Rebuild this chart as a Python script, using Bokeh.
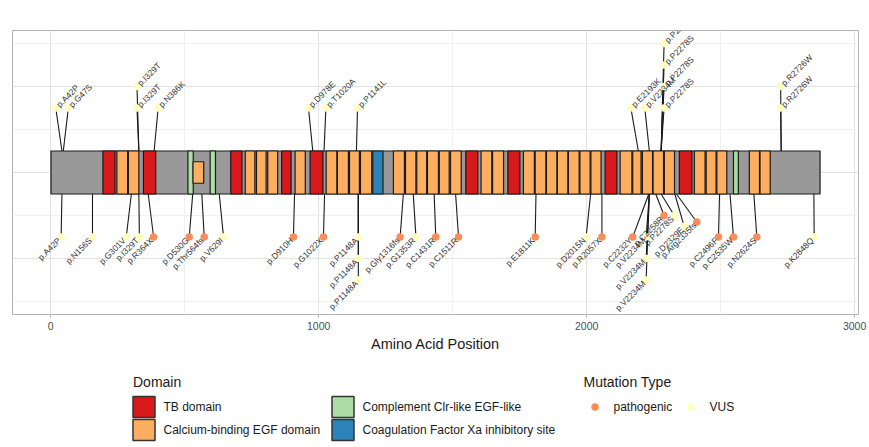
import math
from bokeh.plotting import figure
from bokeh.models import Range1d, FixedTicker, ColumnDataSource
from bokeh.layouts import column
from bokeh.embed import file_html
from bokeh.resources import INLINE
from bokeh.core.properties import value

# ---------------- data ----------------
protein_start = 1
protein_end = 2871

domain_names = ["TB domain", "Calcium-binding EGF domain",
                "Complement Clr-like EGF-like", "Coagulation Factor Xa inhibitory site"]
domain_colors = ["#D7191C", "#FDAE61", "#ABDDA4", "#2B83BA"]

tb_start = [195, 346, 672, 862, 968, 1549, 1706, 2069, 2346]
tb_end = [240, 392, 714, 897, 1016, 1594, 1751, 2113, 2393]
cb_start = [247, 290, 726, 768, 810, 912, 1028, 1070, 1115, 1156, 1279, 1324, 1366,
            1406, 1450, 1492, 1606, 1649, 1764, 1808, 1850, 1891, 1932, 1975, 2016,
            2125, 2172, 2208, 2248, 2290, 2402, 2446, 2486, 2607, 2647]
cb_end = [287, 329, 762, 804, 847, 950, 1068, 1111, 1152, 1198, 1320, 1363, 1403,
          1447, 1487, 1532, 1646, 1690, 1805, 1848, 1889, 1930, 1972, 2013, 2054,
          2169, 2203, 2246, 2287, 2328, 2442, 2483, 2523, 2645, 2685]
cc_start = [512, 595, 2548]
cc_end = [532, 615, 2566]
fx_start = [1202]
fx_end = [1240]
# inner (overlapping) calcium-binding EGF region
inner_start = [531]
inner_end = [571]

mut_types = ["pathogenic", "VUS"]
mut_colors = ["#FC8D59", "#FFFFBF"]

# mutations shown above the protein
up_label = ["p.A42P", "p.G47S", "p.I329T", "p.I329T", "p.N386K", "p.D978E", "p.T1020A",
            "p.P1141L", "p.E2193K", "p.V2234M", "p.P2278S", "p.P2278S", "p.P2278S",
            "p.P2278S", "p.R2726W", "p.R2726W"]
up_pos = [42, 47, 329, 329, 386, 978, 1020, 1141, 2193, 2234, 2278, 2278, 2278, 2278, 2726, 2726]
up_type = ["VUS"] * 16
up_lab_x = [19, 66, 322, 322, 401, 962, 1027, 1145, 2165, 2217, 2289, 2289, 2289, 2289, 2724, 2724]
up_lab_y = [0.75, 0.75, 0.75, 1.0, 0.75, 0.75, 0.75, 0.75, 0.75, 0.75, 0.75, 1.0, 1.25, 1.5, 0.75, 1.0]

# mutations shown below the protein
dn_label = ["p.A42P", "p.N156S", "p.G301V", "p.I329T", "p.R364X", "p.D530G", "p.Thr564fs",
            "p.V629I", "p.D910H", "p.G1022X", "p.P1148A", "p.P1148A", "p.P1148A",
            "p.Gly1316fs", "p.G1353R", "p.C1431R", "p.C1511R", "p.E1811K", "p.D2015N",
            "p.R2057X", "p.C2232Y", "p.V2234M", "p.V2234M", "p.V2234M", "p.C2258R",
            "p.P2278S", "p.D2329E", "p.Arg2335fs", "p.C2496F", "p.C2535W", "p.N2624S",
            "p.K2848Q"]
dn_pos = [42, 156, 301, 329, 364, 530, 564, 629, 910, 1022, 1148, 1148, 1148, 1316, 1353,
          1431, 1511, 1811, 2015, 2057, 2232, 2234, 2234, 2234, 2258, 2278, 2329, 2335,
          2496, 2535, 2624, 2848]
dn_type = ["VUS", "VUS", "VUS", "VUS", "pathogenic", "pathogenic", "pathogenic", "VUS",
           "pathogenic", "pathogenic", "VUS", "VUS", "VUS", "pathogenic", "VUS",
           "pathogenic", "pathogenic", "pathogenic", "VUS", "pathogenic", "pathogenic",
           "VUS", "VUS", "VUS", "pathogenic", "VUS", "VUS", "pathogenic", "pathogenic",
           "pathogenic", "pathogenic", "VUS"]
dn_lab_x = [39, 156, 282, 331, 384, 517, 573, 645, 906, 1018, 1148, 1148, 1148, 1304, 1363,
            1437, 1522, 1808, 1998, 2057, 2172, 2222, 2222, 2222, 2289, 2327, 2364, 2411,
            2492, 2548, 2635, 2849]
dn_lab_y = [-0.75, -0.75, -0.75, -0.75, -0.75, -0.75, -0.75, -0.75, -0.75, -0.75, -0.75,
            -1.0, -1.25, -0.75, -0.75, -0.75, -0.75, -0.75, -0.75, -0.75, -0.75, -0.75,
            -1.0, -1.25, -0.5, -0.5, -0.625, -0.575, -0.75, -0.75, -0.75, -0.75]

# ---------------- style ----------------
FONT = "Liberation Sans"
BAR_H = 0.25
INNER_H = 0.125
color_of_type = dict(zip(mut_types, mut_colors))
color_of_dom = dict(zip(domain_names, domain_colors))

W = 869
H_MAIN = 358
H_LEG = 89
FRAME_L, FRAME_R = 12, 858

p = figure(width=W, height=H_MAIN, x_range=Range1d(-142.5, 3014.5),
           y_range=Range1d(-1.65, 1.65), output_backend="svg", toolbar_location=None,
           y_axis_location=None, min_border_left=FRAME_L, min_border_right=W - FRAME_R,
           min_border_top=30, min_border_bottom=44)
p.background_fill_color = "white"
p.border_fill_color = "white"
p.outline_line_color = "#b3b3b3"
p.outline_line_width = 1

xt = FixedTicker(ticks=[0, 1000, 2000, 3000], minor_ticks=[500, 1500, 2500])
p.xaxis.ticker = xt
p.xgrid.ticker = xt
p.xgrid.grid_line_color = "#e3e3e3"
p.xgrid.minor_grid_line_color = "#f0f0f0"
p.ygrid.ticker = FixedTicker(ticks=[-1, 0, 1], minor_ticks=[-1.5, -0.5, 0.5, 1.5])
p.ygrid.grid_line_color = "#e3e3e3"
p.ygrid.minor_grid_line_color = "#f0f0f0"

ax = p.xaxis[0]
ax.axis_line_color = None
ax.minor_tick_line_color = None
ax.major_tick_line_color = "#b3b3b3"
ax.major_tick_out = 3
ax.major_tick_in = 0
ax.major_label_text_font = FONT
ax.major_label_text_font_size = "10.5px"
ax.major_label_text_color = "#4d4d4d"
ax.major_label_standoff = 3
ax.axis_label = "Amino Acid Position"
ax.axis_label_text_font = FONT
ax.axis_label_text_font_size = "14.5px"
ax.axis_label_text_font_style = "normal"
ax.axis_label_text_color = "#1a1a1a"
ax.axis_label_standoff = 3

# segments (connector lines)
def seg_source(pos, lx, ly, sign):
    return ColumnDataSource(dict(x0=pos, y0=[sign * BAR_H] * len(pos), x1=lx, y1=ly))

p.segment("x0", "y0", "x1", "y1", source=seg_source(up_pos, up_lab_x, up_lab_y, 1),
          line_color="#1a1a1a", line_width=1.1)
p.segment("x0", "y0", "x1", "y1", source=seg_source(dn_pos, dn_lab_x, dn_lab_y, -1),
          line_color="#1a1a1a", line_width=1.1)

# protein backbone
p.quad(left=[protein_start], right=[protein_end], bottom=[-BAR_H], top=[BAR_H],
       fill_color="#999999", line_color="#1a1a1a", line_width=1.2)

def draw_domains(starts, ends, name, h):
    p.quad(left=starts, right=ends, bottom=[-h] * len(starts), top=[h] * len(starts),
           fill_color=color_of_dom[name], line_color="#1a1a1a", line_width=1.2)

draw_domains(tb_start, tb_end, "TB domain", BAR_H)
draw_domains(cb_start, cb_end, "Calcium-binding EGF domain", BAR_H)
draw_domains(cc_start, cc_end, "Complement Clr-like EGF-like", BAR_H)
draw_domains(fx_start, fx_end, "Coagulation Factor Xa inhibitory site", BAR_H)
draw_domains(inner_start, inner_end, "Calcium-binding EGF domain", INNER_H)

# points
up_src = ColumnDataSource(dict(x=up_lab_x, y=up_lab_y, t=up_label,
                               c=[color_of_type[t] for t in up_type]))
dn_src = ColumnDataSource(dict(x=dn_lab_x, y=dn_lab_y, t=dn_label,
                               c=[color_of_type[t] for t in dn_type]))
p.scatter("x", "y", source=up_src, size=7.5, fill_color="c", line_color=None)
p.scatter("x", "y", source=dn_src, size=7.5, fill_color="c", line_color=None)

# labels
p.text("x", "y", text="t", source=up_src, angle=math.pi / 4, text_align="left",
       text_baseline="middle", text_font=value(FONT), text_font_size="8.5px",
       text_color="#333333", x_offset=2, y_offset=-2)
p.text("x", "y", text="t", source=dn_src, angle=math.pi / 4, text_align="right",
       text_baseline="middle", text_font=value(FONT), text_font_size="8.5px",
       text_color="#333333", x_offset=-2, y_offset=2)

# ---------------- legend (drawn in page-pixel coordinates) ----------------
OY = H_MAIN
leg = figure(width=W, height=H_LEG, x_range=Range1d(FRAME_L, FRAME_R),
             y_range=Range1d(H_LEG, 0), output_backend="svg", toolbar_location=None,
             min_border=0, min_border_left=FRAME_L, min_border_right=W - FRAME_R,
             x_axis_location=None, y_axis_location=None)
leg.outline_line_color = None
leg.xgrid.visible = False
leg.ygrid.visible = False
leg.background_fill_color = "white"
leg.border_fill_color = "white"

leg.text([132.5], [381.5 - OY], text=["Domain"], text_font=value(FONT),
         text_font_size="14px", text_baseline="middle", text_color="#1a1a1a")
col_x = [132.5, 331.5]
row_y = [396, 419]
KEY_W, KEY_H = 22, 21
kx, ky, kc, tx, ty = [], [], [], [], []
for i, name in enumerate(domain_names):
    cx = col_x[i // 2]
    cy = row_y[i % 2] - OY
    kx.append(cx)
    ky.append(cy)
    kc.append(domain_colors[i])
    tx.append(cx + 30.5)
    ty.append(cy + KEY_H / 2)
leg.quad(left=kx, right=[v + KEY_W for v in kx], top=ky, bottom=[v + KEY_H for v in ky],
         fill_color=kc, line_color="#333333", line_width=1.5)
leg.text(tx, ty, text=domain_names, text_font=value(FONT), text_font_size="12px",
         text_baseline="middle", text_color="#1a1a1a")

leg.text([583], [381.5 - OY], text=["Mutation Type"], text_font=value(FONT),
         text_font_size="14px", text_baseline="middle", text_color="#1a1a1a")
dot_x = [594.5, 690.5]
leg.scatter(dot_x, [406.5 - OY] * 2, size=7.5, fill_color=mut_colors, line_color=None)
leg.text([v + 18.5 for v in dot_x], [406.5 - OY] * 2, text=mut_types, text_font=value(FONT),
         text_font_size="12px", text_baseline="middle", text_color="#1a1a1a")

layout = column(p, leg, spacing=0)
open("out.html", "w").write(file_html(layout, INLINE))
